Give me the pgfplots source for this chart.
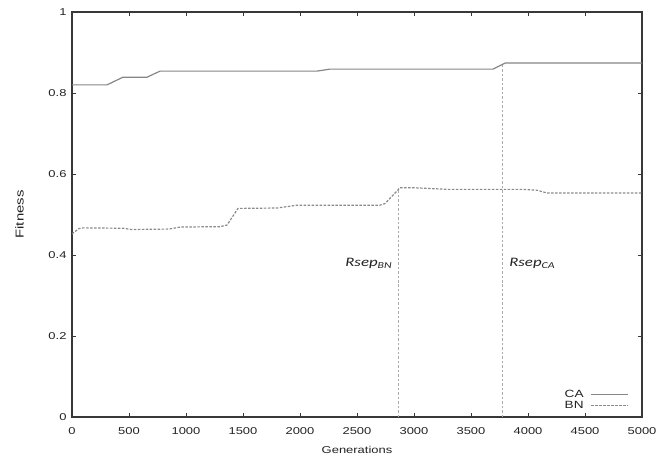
\documentclass[border=0pt]{standalone}
\usepackage{fontspec}
\setmainfont[FakeStretch=1.3]{Liberation Sans}
\newfontfamily\carlito[FakeStretch=1.3]{Carlito}
\usepackage{pgfplots}
\pgfplotsset{compat=1.18}

\definecolor{frame}{HTML}{383838}
\definecolor{txt}{HTML}{222222}
\definecolor{caline}{HTML}{868686}
\definecolor{bnline}{HTML}{8A8A8A}
\definecolor{sepline}{HTML}{ABABAB}

\begin{document}
\begin{tikzpicture}
\begin{axis}[
    scale only axis,
    width=570bp, height=405bp,
    xmin=0, xmax=5000, ymin=0, ymax=1,
    xtick={0,500,...,5000},
    ytick={0,0.2,0.4,0.6,0.8,1},
    yticklabels={0,0.2,0.4,0.6,0.8,1},
    scaled x ticks=false,
    /pgf/number format/assume math mode=true,
    /pgf/number format/1000 sep={},
    tick align=inside,
    major tick length=4bp,
    axis line style={frame, line width=1.5pt},
    tick style={frame, line width=0.9pt},
    ticklabel style={font=\fontsize{10}{12}\selectfont, text=txt},
    xticklabel style={yshift=-7bp},
    yticklabel style={xshift=-2bp},
    xlabel={Generations},
    ylabel={Fitness},
    xlabel style={font=\fontsize{10}{12}\selectfont, text=txt, yshift=-5bp},
    ylabel style={font=\fontsize{11.5}{13}\selectfont, text=txt, yshift=18bp},
    legend plot pos=right,
    legend cell align=right,
    legend image code/.code={\draw[#1] (0bp,0bp) -- (37bp,0bp);},
    legend style={at={(1,0)}, anchor=south east, xshift=-13bp, yshift=5bp,
        draw=none, fill=none, inner sep=0pt, column sep=5bp,
        font=\fontsize{10.5}{11}\selectfont, text=txt, row sep=-1.5pt},
]
% CA
\addplot[caline, line width=1.2pt] coordinates {
    (0,0.820) (307,0.820) (447,0.839) (658,0.839) (772,0.854)
    (2149,0.854) (2263,0.859) (3693,0.859) (3800,0.874) (5000,0.874)
};
\addlegendentry{CA}
% BN
\addplot[bnline, line width=1.2pt, dash pattern=on 2.5pt off 1.5pt] coordinates {
    (0,0.452) (60,0.465) (100,0.467) (450,0.466) (520,0.463) (850,0.464)
    (950,0.469) (1300,0.470) (1360,0.474) (1456,0.515) (1800,0.516)
    (1974,0.523) (2700,0.523) (2746,0.527) (2877,0.566) (3000,0.566)
    (3300,0.562) (3950,0.562) (4079,0.560) (4167,0.553) (5000,0.553)
};
\addlegendentry{BN}
% separation markers
\addplot[sepline, line width=0.7pt, dash pattern=on 2.5pt off 2pt, forget plot]
    coordinates {(2860,0) (2860,0.566)};
\addplot[sepline, line width=0.7pt, dash pattern=on 2.5pt off 2pt, forget plot]
    coordinates {(3772,0) (3772,0.874)};
\node[anchor=east, text=txt, font=\carlito\itshape\fontsize{13}{15}\selectfont]
    at (axis cs:2840,0.38) {Rsep\textsubscript{BN}};
\node[anchor=west, text=txt, font=\carlito\itshape\fontsize{13}{15}\selectfont]
    at (axis cs:3805,0.38) {Rsep\textsubscript{CA}};
\end{axis}
\pgfresetboundingbox
\path[use as bounding box] ([xshift=-72bp,yshift=-42bp]current axis.south west)
    rectangle ([xshift=17bp,yshift=12bp]current axis.north east);
\end{tikzpicture}
\end{document}
